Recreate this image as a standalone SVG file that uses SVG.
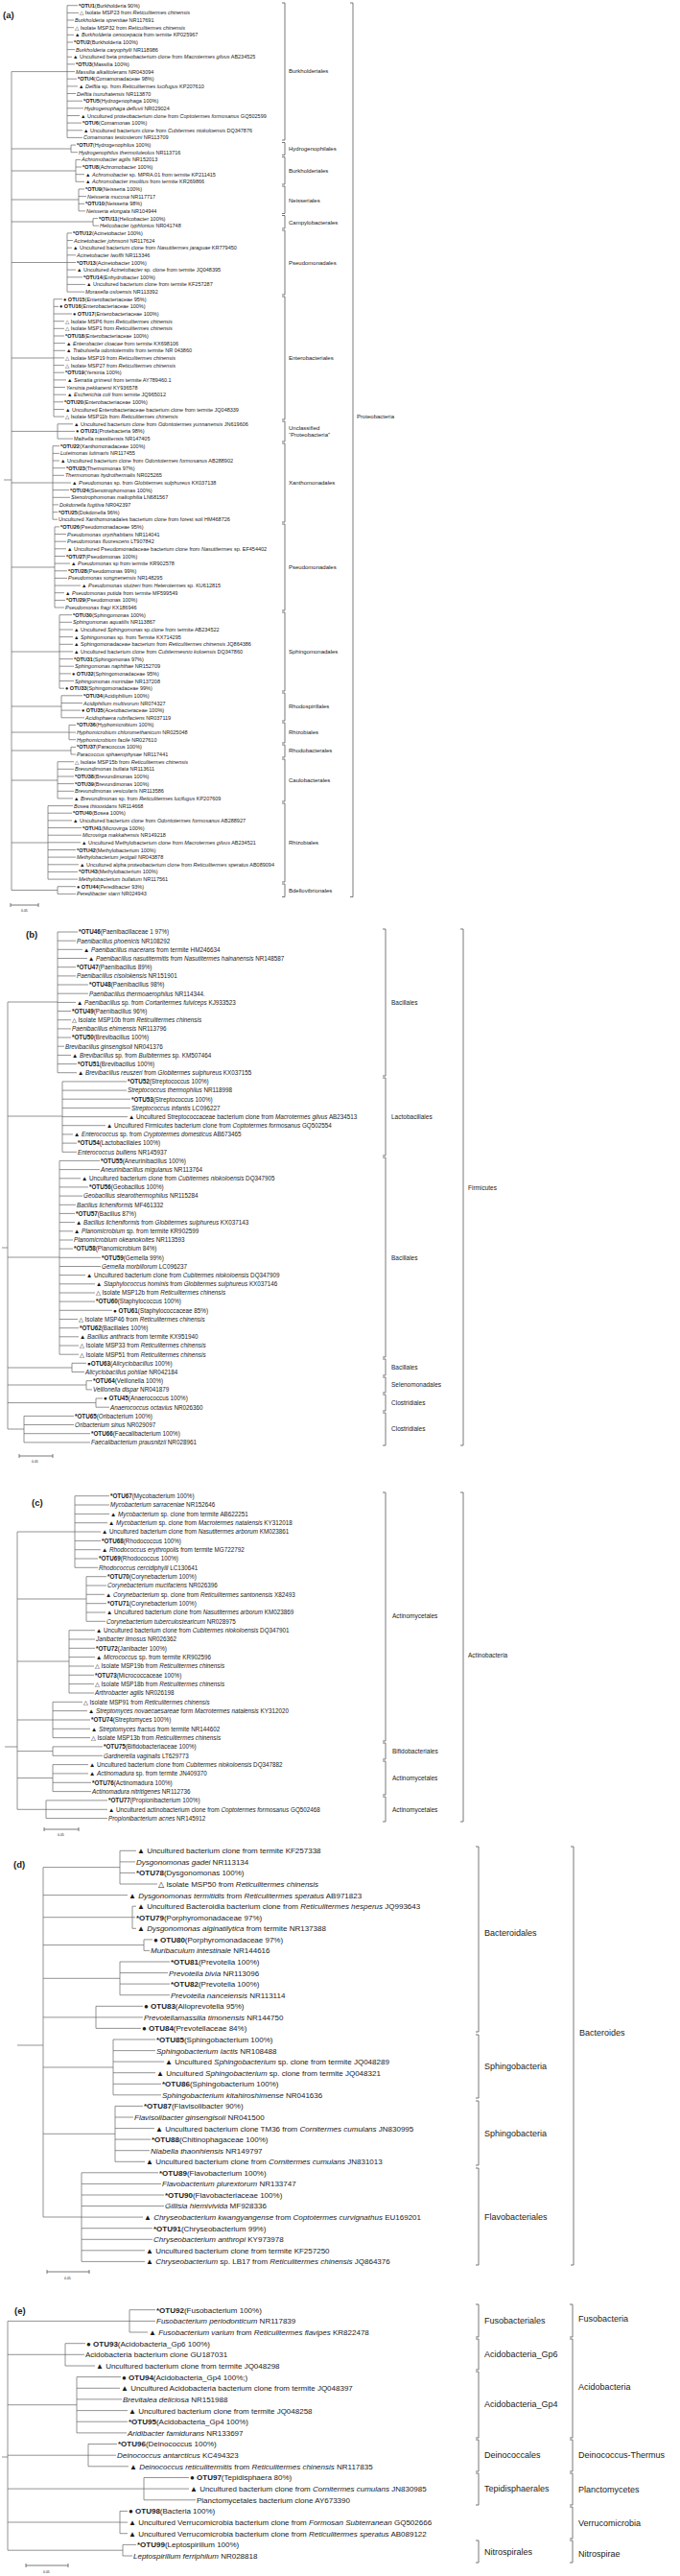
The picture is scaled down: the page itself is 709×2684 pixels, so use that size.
<svg xmlns="http://www.w3.org/2000/svg" width="709" height="2684" viewBox="0 0 709 2684">
<style>
text{font-family:"Liberation Sans",Arial,"DejaVu Sans",sans-serif;fill:#1a1a1a}
.a text{font-size:5.5px}.b text{font-size:6.3px}.d text{font-size:8px}
.i{font-style:italic}.k{font-weight:bold}
.l{fill:none;stroke:#666;stroke-width:0.7}
.br{fill:none;stroke:#555;stroke-width:0.8}
.oa text{font-size:6px}.ob text{font-size:6.5px}.od text{font-size:9px}
.pl{font-size:9.5px;font-weight:bold}
.sc{font-size:3.5px}
</style>
<rect width="709" height="2684" fill="#fff"/>
<g id="panel-labels">
<text class="pl" x="3" y="19">(a)</text>
<text class="pl" x="27" y="977">(b)</text>
<text class="pl" x="33" y="1569">(c)</text>
<text class="pl" x="14" y="1946">(d)</text>
<text class="pl" x="15" y="2411">(e)</text>
</g>
<g id="connectors">
<path class="l" d="M70 5.7V143.4M70 5.7H81M70 13.4H82M70 21H77M70 28.7H77M70 36.3H77M70 44H76M70 51.6H78M70 59.3H75M70 66.9H78M70 74.6H78M70 82.2H80M70 89.9H81M70 97.5H79M70 105.2H86M70 112.8H87M70 120.5H83M70 128.1H85M70 135.8H86M70 143.4H86
M74 151.1V158.7M74 151.1H79M74 158.7H81M79 166.4V189.3M79 166.4H84M79 174H85M79 181.7H88M79 189.3H88M82 197V219.9M82 197H88M82 204.6H90M82 212.3H88M82 219.9H89M97 227.6V235.2M97 227.6H102M97 235.2H103
M70 242.9V304.1M70 242.9H75M70 250.5H76M70 258.2H75M70 265.8H79M70 273.5H79M70 281.1H79M70 288.8H86M70 296.4H89M70 304.1H88
M56 311.7V434.1M56 311.7H65M56 319.4H61M56 327H75M56 334.7H67M56 342.3H67M56 350H67M56 357.6H68M56 365.3H68M56 372.9H67M56 380.6H67M56 388.2H67M56 395.9H69M56 403.5H68M56 411.2H69M56 418.8H66M56 426.5H67M56 434.1H67
M60 441.8V457.1M60 441.8H76M60 449.4H78M60 457.1H76
M55 464.7V541.2M55 464.7H62M55 472.4H62M55 480H62M55 487.7H68M55 495.3H67M55 503H74M55 510.6H72M55 518.3H73M55 525.9H61M55 533.6H60M55 541.2H60
M57 548.9V633M57 548.9H62M57 556.5H69M57 564.2H69M57 571.8H69M57 579.5H68M57 587.1H73M57 594.8H70M57 602.4H70M57 610.1H84M57 617.7H67M57 625.4H68M57 633H67
M62 640.7V717.2M62 640.7H75M62 648.3H75M62 656H76M62 663.6H76M62 671.3H76M62 678.9H76M62 686.6H76M62 694.2H77M62 701.9H74M62 709.5H77M62 717.2H67
M64 724.8V747.8M64 724.8H86M64 732.5H86M64 740.1H84M64 747.8H88M72 755.4V770.7M72 755.4H79M72 763.1H79M72 770.7H79M74 778.4V786M74 778.4H79M74 786H79
M60 793.7V831.9M60 793.7H77M60 801.3H77M60 809H77M60 816.6H77M60 824.3H77M60 831.9H76
M50 839.6V916.1M50 839.6H76M50 847.2H75M50 854.9H75M50 862.5H85M50 870.2H85M50 877.8H84M50 885.5H79M50 893.1H79M50 900.8H82M50 908.4H81M50 916.1H81
M60 923.7V931.4M60 923.7H79M60 931.4H79
M12 74.6V927.5M12 74.6H70M12 155H74M12 178H79M12 208H82M12 231H97M12 273.5H70M12 373H56M12 449.4H60M12 503H55M12 591H57M12 679H62M12 736H64M12 763H72M12 782H74M12 813H60M12 878H50M12 927.5H60M4 500H12"/>
<path class="l" d="M60 971V1117.7M60 971H81M60 980.2H79M60 989.3H86M60 998.5H91M60 1007.7H79M60 1016.9H79M60 1026H92M60 1035.2H92M60 1044.4H79M60 1053.5H74M60 1062.7H74M60 1071.9H74M60 1081H74M60 1090.2H67M60 1099.4H74M60 1108.6H80M60 1117.7H80
M65 1126.9V1200.3M65 1126.9H132M65 1136.1H132M65 1145.2H136M65 1154.4H136M65 1163.6H133M65 1172.7H110M65 1181.9H76M65 1191.1H80M65 1200.3H80
M62 1209.4V1411.2M62 1209.4H104M62 1218.6H104M62 1227.8H84M62 1236.9H92M62 1246.1H86M62 1255.3H79M62 1264.4H78M62 1273.6H78M62 1282.8H76M62 1292H76M62 1301.1H76M62 1310.3H105M62 1319.5H105M62 1328.6H89M62 1337.8H99M62 1347H99M62 1356.1H99M62 1365.3H117M62 1374.5H81M62 1383.7H82M62 1392.8H82M62 1402H82M62 1411.2H82
M75 1420.3V1429.5M75 1420.3H90M75 1429.5H88M90 1438.7V1447.9M90 1438.7H96M90 1447.9H96M100 1457V1466.2M100 1457H107M100 1466.2H114
M25 1475.4V1502.9M25 1475.4H77M25 1484.5H77M25 1493.7H94M25 1502.9H94
M8 1044V1489M8 1044H60M8 1163H65M8 1310H62M8 1425H75M8 1443H90M8 1461.6H100M8 1489H25M2 1300H8"/>
<path class="l" d="M78 1558.7V1633.3M78 1558.7H114M78 1568H114M78 1577.4H114M78 1586.7H112M78 1596H105M78 1605.4H105M78 1614.7H105M78 1624H102M78 1633.3H102
M90 1642.7V1689.3M90 1642.7H111M90 1652H111M90 1661.3H109M90 1670.7H111M90 1680H110M90 1689.3H110
M72 1698.7V1764M72 1698.7H99M72 1708H99M72 1717.3H99M72 1726.6H99M72 1736H98M72 1745.3H98M72 1754.6H98M72 1764H98
M55 1773.3V1810.6M55 1773.3H86M55 1782.6H91M55 1792H94M55 1801.3H94M55 1810.6H94
M55 1819.9V1829.3M55 1819.9H107M55 1829.3H107M55 1838.6V1866.6M55 1838.6H92M55 1847.9H92M55 1857.3H95M55 1866.6H95
M48 1875.9V1894.6M48 1875.9H112M48 1885.3H112M48 1894.6H112
M18 1596V1885.3M18 1596H78M18 1666H90M18 1731H72M18 1792H55M18 1824.6H55M18 1852.6H55M18 1885.3H48M5 1820H18"/>
<path class="l" d="M125 1928.3V1963M125 1928.3H142M125 1939.9H141M125 1951.4H141M125 1963H164M45 1974.6H133
M138 1986.2V2009.3M138 1986.2H142M138 1997.7H141M138 2009.3H142M150 2020.9V2032.4M150 2020.9H159M150 2032.4H156
M125 2044V2078.7M125 2044H177M125 2055.6H175M125 2067.1H177M125 2078.7H177
M100 2090.3V2113.4M100 2090.3H149M100 2101.9H149M100 2113.4H147
M118 2125V2182.8M118 2125H162M118 2136.6H162M118 2148.1H171M118 2159.7H162M118 2171.3H168M118 2182.8H168
M120 2194.4V2252.3M120 2194.4H149M120 2206H139M120 2217.6H161M120 2229.1H157M120 2240.7H156M120 2252.3H151
M85 2263.8V2356.4M85 2263.8H165M85 2275.4H168M85 2287H171M85 2298.5H171M85 2310.1H149M85 2321.7H159M85 2333.3H159M85 2344.8H151M85 2356.4H151
M45 1945.6V2310M45 1945.6H125M45 1997.7H138M45 2026.6H150M45 2061.3H125M45 2101.9H100M45 2154H118M45 2223.3H120M45 2310H85M18 2131H45"/>
<path class="l" d="M135 2406.7V2430M135 2406.7H162M135 2418.4H162M135 2430H154
M68 2441.7V2465M68 2441.7H89M68 2453.3H88M68 2465H99
M80 2476.6V2534.9M80 2476.6H126M80 2488.3H125M80 2499.9H127M80 2511.6H133M80 2523.2H133M80 2534.9H132
M92 2546.5V2569.8M92 2546.5H122M92 2558.2H121M92 2569.8H134
M150 2581.5V2604.8M150 2581.5H197M150 2593.1H197M150 2604.8H204
M125 2616.4V2639.7M125 2616.4H133M125 2628.1H133M125 2639.7H133
M128 2651.4V2663M128 2651.4H142M128 2663H138
M8 2418.4V2657.2M8 2418.4H135M8 2453.3H68M8 2505.7H80M8 2558.2H92M8 2593.1H150M8 2628H125M8 2657.2H128M2 2560H8"/>
<path class="br" d="M11 943H40M11 941V945M40 941V945M20 1517H55M20 1515V1519M55 1515V1519M46 1906H82M46 1904V1908M82 1904V1908M49 2367H93M49 2365V2369M93 2365V2369M27 2673H71M27 2671V2675M71 2671V2675"/>
</g>
<g id="scales">
<text class="sc" x="22" y="950">0.05</text><text class="sc" x="33" y="1524">0.05</text><text class="sc" x="60" y="1913">0.05</text><text class="sc" x="67" y="2375">0.05</text><text class="sc" x="45" y="2681">0.05</text>
</g>
<g id="brackets">
<path class="br" d="M294 3H297V146H294M294 148.5H297V161.5H294M294 163.5H297V192H294M294 194H297V222.5H294M294 224.5H297V238H294M294 240H297V307H294M294 309H297V437H294M294 439H297V460H294M294 462H297V544H294M294 546H297V636H294M294 638H297V720H294M294 722H297V751H294M294 753H297V774H294M294 776H297V789H294M294 791H297V835H294M294 837H297V919H294M294 921H297V934.5H294M365 3H368V934.5H365
M399 968H402V1121H399M399 1123H402V1204H399M399 1206H402V1414H399M399 1416H402V1433H399M399 1435H402V1451H399M399 1453H402V1470H399M399 1472H402V1506H399M480 968H483V1506H480
M399 1555H402V1814H399M399 1816H402V1833H399M399 1835H402V1870H399M399 1872H402V1898H399M480 1555H483V1898H480
M496 1924H499V2117H496M496 2120H499V2186H496M496 2189H499V2256H496M496 2259H499V2360H496M595 1924H598V2360H595
M496 2401H499V2435H496M496 2437H499V2469H496M496 2471H499V2540H496M496 2542H499V2575H496M496 2577H499V2610H496M496 2647H499V2670H496
M594 2401H597V2435H594M594 2437H597V2540H594M594 2542H597V2575H594M594 2577H597V2610H594M594 2612H597V2645H594M594 2647H597V2670H594"/>
</g>
<g id="group-labels">
<g class="oa">
<text x="301" y="76">Burkholderiales</text><text x="301" y="157">Hydrogenophilales</text><text x="301" y="180">Burkholderiales</text><text x="301" y="211">Neisseriales</text><text x="301" y="234">Campylobacterales</text><text x="301" y="276">Pseudomonadales</text><text x="301" y="375">Enterobacteriales</text><text x="301" y="447.5">Unclassified</text><text x="301" y="455">“Proteobacteria”</text><text x="301" y="505">Xanthomonadales</text><text x="301" y="593">Pseudomonadales</text><text x="301" y="681">Sphingomonadales</text><text x="301" y="738">Rhodospirillales</text><text x="301" y="765">Rhizobiales</text><text x="301" y="784">Rhodobacterales</text><text x="301" y="815">Caulobacterales</text><text x="301" y="880">Rhizobiales</text><text x="301" y="930">Bdellovibrionales</text><text x="372" y="436">Proteobacteria</text>
</g>
<g class="ob">
<text x="408" y="1047">Bacillales</text><text x="408" y="1166">Lactobacillales</text><text x="408" y="1313">Bacillales</text><text x="408" y="1427">Bacillales</text><text x="408" y="1445">Selenomonadales</text><text x="408" y="1464">Clostridiales</text><text x="408" y="1491">Clostridiales</text><text x="488" y="1240">Firmicutes</text>
<text x="409" y="1686">Actinomycetales</text><text x="409" y="1827">Bifidobacteriales</text><text x="409" y="1855">Actinomycetales</text><text x="409" y="1888">Actinomycetales</text><text x="488" y="1727">Actinobacteria</text>
</g>
<g class="od">
<text x="505" y="2017">Bacteroidales</text><text x="505" y="2156">Sphingobacteria</text><text x="505" y="2226">Sphingobacteria</text><text x="505" y="2313">Flavobacteriales</text><text x="604" y="2121">Bacteroides</text>
<text x="505" y="2421">Fusobacteriales</text><text x="505" y="2456">Acidobacteria_Gp6</text><text x="505" y="2508">Acidobacteria_Gp4</text><text x="505" y="2561">Deinococcales</text><text x="505" y="2596">Tepidisphaerales</text><text x="505" y="2662">Nitrospirales</text>
<text x="603" y="2419">Fusobacteria</text><text x="603" y="2490">Acidobacteria</text><text x="603" y="2561">Deinococcus-Thermus</text><text x="603" y="2597">Planctomycetes</text><text x="603" y="2632">Verrucomicrobia</text><text x="603" y="2664">Nitrospirae</text>
</g>
</g>
<g id="leaves-a" class="a">
<text x="82" y="7.7"><tspan class="k">*OTU1</tspan>(Burkholderia 90%)</text>
<text x="83" y="15.4">△ Isolate MSP23 from <tspan class="i">Reticulitermes chinensis</tspan></text>
<text x="78" y="23"><tspan class="i">Burkholderia sprentiae</tspan> NR117691</text>
<text x="78" y="30.7">△ Isolate MSP32 from <tspan class="i">Reticulitermes chinensis</tspan></text>
<text x="78" y="38.3">▲ <tspan class="i">Burkholderia cenocepacia</tspan> from termite KP025967</text>
<text x="77" y="46"><tspan class="k">*OTU2</tspan>(Burkholderia 100%)</text>
<text x="79" y="53.6"><tspan class="i">Burkholderia caryophylli</tspan> NR118986</text>
<text x="76" y="61.3">▲ Uncultured beta proteobacterium clone from <tspan class="i">Macrotermes gilvus</tspan> AB234525</text>
<text x="79" y="68.9"><tspan class="k">*OTU3</tspan>(Massilia 100%)</text>
<text x="79" y="76.6"><tspan class="i">Massilia alkalitolerans</tspan> NR043094</text>
<text x="81" y="84.2"><tspan class="k">*OTU4</tspan>(Comamonadaceae 98%)</text>
<text x="82" y="91.9">▲ <tspan class="i">Delftia</tspan> sp. from <tspan class="i">Reticulitermes lucifugus</tspan> KP207610</text>
<text x="80" y="99.5"><tspan class="i">Delftia tsuruhatensis</tspan> NR113870</text>
<text x="87" y="107.2"><tspan class="k">*OTU5</tspan>(Hydrogenophaga 100%)</text>
<text x="88" y="114.8"><tspan class="i">Hydrogenophaga defluvii</tspan> NR029024</text>
<text x="84" y="122.5">▲ Uncultured proteobacterium clone from <tspan class="i">Coptotermes formosanus</tspan> GQ502599</text>
<text x="86" y="130.1"><tspan class="k">*OTU6</tspan>(Comamonas 100%)</text>
<text x="87" y="137.8">▲ Uncultured bacterium clone from <tspan class="i">Cubitermes niokoloensis</tspan> DQ347876</text>
<text x="87" y="145.4"><tspan class="i">Comamonas testosteroni</tspan> NR113709</text>
<text x="80" y="153.1"><tspan class="k">*OTU7</tspan>(Hydrogenophilus 100%)</text>
<text x="82" y="160.7"><tspan class="i">Hydrogenophilus thermoluteolus</tspan> NR113716</text>
<text x="85" y="168.4"><tspan class="i">Achromobacter agilis</tspan> NR152013</text>
<text x="86" y="176"><tspan class="k">*OTU8</tspan>(Achromobacter 100%)</text>
<text x="89" y="183.7">▲ <tspan class="i">Achromobacter</tspan> sp. MPRA.01 from termite KP211415</text>
<text x="89" y="191.3">▲ <tspan class="i">Achromobacter insolitus</tspan> from termite KR269866</text>
<text x="89" y="199"><tspan class="k">*OTU9</tspan>(Neisseria 100%)</text>
<text x="91" y="206.6"><tspan class="i">Neisseria mucosa</tspan> NR117717</text>
<text x="89" y="214.3"><tspan class="k">*OTU10</tspan>(Neisseria 98%)</text>
<text x="90" y="221.9"><tspan class="i">Neisseria elongata</tspan> NR104944</text>
<text x="103" y="229.6"><tspan class="k">*OTU11</tspan>(Helicobacter 100%)</text>
<text x="104" y="237.2"><tspan class="i">Helicobacter typhlonius</tspan> NR041748</text>
<text x="76" y="244.9"><tspan class="k">*OTU12</tspan>(Acinetobacter 100%)</text>
<text x="77" y="252.5"><tspan class="i">Acinetobacter johnsonii</tspan> NR117624</text>
<text x="76" y="260.2">▲ Uncultured bacterium clone from <tspan class="i">Nasutitermes jaraguae</tspan> KR779450</text>
<text x="80" y="267.8"><tspan class="i">Acinetobacter lwoffii</tspan> NR113346</text>
<text x="80" y="275.5"><tspan class="k">*OTU13</tspan>(Acinetobacter 100%)</text>
<text x="80" y="283.1">▲ Uncultured <tspan class="i">Acinetobacter</tspan> sp. clone from termite JQ048395</text>
<text x="87" y="290.8"><tspan class="k">*OTU14</tspan>(Enhydrobacter 100%)</text>
<text x="90" y="298.4">▲ Uncultured bacterium clone from termite KF257287</text>
<text x="89" y="306.1"><tspan class="i">Moraxella osloensis</tspan> NR113392</text>
<text x="66" y="313.7">● <tspan class="k">OTU15</tspan>(Enterobacteriaceae 95%)</text>
<text x="62" y="321.4">● <tspan class="k">OTU16</tspan>(Enterobacteriaceae 100%)</text>
<text x="76" y="329">● <tspan class="k">OTU17</tspan>(Enterobacteriaceae 100%)</text>
<text x="68" y="336.7">△ Isolate MSP6 from <tspan class="i">Reticulitermes chinensis</tspan></text>
<text x="68" y="344.3">△ Isolate MSP1 from <tspan class="i">Reticulitermes chinensis</tspan></text>
<text x="68" y="352"><tspan class="k">*OTU18</tspan>(Enterobacteriaceae 100%)</text>
<text x="69" y="359.6">▲ <tspan class="i">Enterobacter cloacae</tspan> from termite KX698106</text>
<text x="69" y="367.3">▲ <tspan class="i">Trabulsiella odontotermitis</tspan> from termite NR 043860</text>
<text x="68" y="374.9">△ Isolate MSP19 from <tspan class="i">Reticulitermes chinensis</tspan></text>
<text x="68" y="382.6">△ Isolate MSP27 from <tspan class="i">Reticulitermes chinensis</tspan></text>
<text x="68" y="390.2"><tspan class="k">*OTU19</tspan>(Yersinia 100%)</text>
<text x="70" y="397.9">▲ <tspan class="i">Serratia grimesii</tspan> from termite AY789460.1</text>
<text x="69" y="405.5"><tspan class="i">Yersinia pekkanenii</tspan> KY936578</text>
<text x="70" y="413.2">▲ <tspan class="i">Escherichia coli</tspan> from termite JQ965012</text>
<text x="67" y="420.8"><tspan class="k">*OTU20</tspan>(Enterobacteriaceae 100%)</text>
<text x="68" y="428.5">▲ Uncultured Enterobacteriaceae bacterium clone from termite JQ048339</text>
<text x="68" y="436.1">△ Isolate MSP11b from <tspan class="i">Reticulitermes chinensis</tspan></text>
<text x="77" y="443.8">▲ Uncultured bacterium clone from <tspan class="i">Odontotermes yunnanensis</tspan> JN619606</text>
<text x="79" y="451.4">● <tspan class="k">OTU21</tspan>(Protebacteria 98%)</text>
<text x="77" y="459.1">Maihella massiliensis NR147405</text>
<text x="63" y="466.7"><tspan class="k">*OTU22</tspan>(Xanthomonadaceae 100%)</text>
<text x="63" y="474.4"><tspan class="i">Luteimonas lutimaris</tspan> NR117455</text>
<text x="63" y="482">▲ Uncultured bacterium clone from <tspan class="i">Odontotermes formosanus</tspan> AB288902</text>
<text x="69" y="489.7"><tspan class="k">*OTU23</tspan>(Thermomonas 97%)</text>
<text x="68" y="497.3"><tspan class="i">Thermomonas hydrothermalis</tspan> NR025265</text>
<text x="75" y="505">▲ <tspan class="i">Pseudomonas</tspan> sp. from <tspan class="i">Globitermes sulphureus</tspan> KX037138</text>
<text x="73" y="512.6"><tspan class="k">*OTU24</tspan>(Stenotrophomonas 100%)</text>
<text x="74" y="520.3"><tspan class="i">Stenotrophomonas maltophilia</tspan> LN681567</text>
<text x="62" y="527.9"><tspan class="i">Dokdonella fugitiva</tspan> NR042397</text>
<text x="61" y="535.6"><tspan class="k">*OTU25</tspan>(Dokdonella 96%)</text>
<text x="61" y="543.2">Uncultured Xanthomonadales bacterium clone from forest soil HM468726</text>
<text x="63" y="550.9"><tspan class="k">*OTU26</tspan>(Pseudomonadaceae 95%)</text>
<text x="70" y="558.5"><tspan class="i">Pseudomonas oryzihabitans</tspan> NR114041</text>
<text x="70" y="566.2"><tspan class="i">Pseudomonas fluorescens</tspan> LT907842</text>
<text x="70" y="573.8">▲ Uncultured Pseudomonadaceae bacterium clone from <tspan class="i">Nasutitermes</tspan> sp. EF454402</text>
<text x="69" y="581.5"><tspan class="k">*OTU27</tspan>(Pseudomonas 100%)</text>
<text x="74" y="589.1">▲ <tspan class="i">Pseudomonas</tspan> sp from termite KR902578</text>
<text x="71" y="596.8"><tspan class="k">*OTU28</tspan>(Pseudomonas 99%)</text>
<text x="71" y="604.4"><tspan class="i">Pseudomonas songnenensis</tspan> NR148295</text>
<text x="85" y="612.1">▲ <tspan class="i">Pseudomonas stutzeri</tspan> from <tspan class="i">Heterotermes</tspan> sp. KU612815</text>
<text x="68" y="619.7">▲ <tspan class="i">Pseudomonas putida</tspan> from termite  MF599549</text>
<text x="69" y="627.4"><tspan class="k">*OTU29</tspan>(Pseudomonas 100%)</text>
<text x="68" y="635"><tspan class="i">Pseudomonas fragi</tspan> KX186946</text>
<text x="76" y="642.7"><tspan class="k">*OTU30</tspan>(Sphingomonas 100%)</text>
<text x="76" y="650.3"><tspan class="i">Sphingomonas aquatilis</tspan> NR113867</text>
<text x="77" y="658">▲ Uncultured <tspan class="i">Sphingomonas</tspan> sp.clone from termite AB234522</text>
<text x="77" y="665.6">▲ <tspan class="i">Sphingomonas</tspan> sp. from Termite  KX714295</text>
<text x="77" y="673.3">▲ Sphingomonadaceae bacterium from <tspan class="i">Reticulitermes chinensis</tspan> JQ864386</text>
<text x="77" y="680.9">▲ Uncultured bacterium clone from <tspan class="i">Cubitermesnio koloensis</tspan> DQ347860</text>
<text x="77" y="688.6"><tspan class="k">*OTU31</tspan>(Sphingomonas 97%)</text>
<text x="78" y="696.2"><tspan class="i">Sphingomonas naphthae</tspan> NR152709</text>
<text x="75" y="703.9">● <tspan class="k">OTU32</tspan>(Sphingomonadaceae 95%)</text>
<text x="78" y="711.5"><tspan class="i">Sphingomonas morindae</tspan> NR137208</text>
<text x="68" y="719.2">● <tspan class="k">OTU33</tspan>(Sphingomonadaceae 99%)</text>
<text x="87" y="726.8"><tspan class="k">*OTU34</tspan>(Acidiphilium 100%)</text>
<text x="87" y="734.5"><tspan class="i">Acidiphilium multivorum</tspan> NR074327</text>
<text x="85" y="742.1">● <tspan class="k">OTU35</tspan>(Acetobacteraceae 100%)</text>
<text x="89" y="749.8"><tspan class="i">Acidisphaera rubrifaciens</tspan> NR037119</text>
<text x="80" y="757.4"><tspan class="k">*OTU36</tspan>(Hyphomicrobium 100%)</text>
<text x="80" y="765.1"><tspan class="i">Hyphomicrobium chloromethanicum</tspan> NR025048</text>
<text x="80" y="772.7"><tspan class="i">Hyphomicrobium facile</tspan> NR027610</text>
<text x="80" y="780.4"><tspan class="k">*OTU37</tspan>(Paracoccus 100%)</text>
<text x="80" y="788"><tspan class="i">Paracoccus sphaerophysae</tspan> NR117441</text>
<text x="78" y="795.7">△ Isolate MSP15b from <tspan class="i">Reticulitermes chinensis</tspan></text>
<text x="78" y="803.3"><tspan class="i">Brevundimonas bullata</tspan> NR113611</text>
<text x="78" y="811"><tspan class="k">*OTU38</tspan>(Brevundimonas 100%)</text>
<text x="78" y="818.6"><tspan class="k">*OTU39</tspan>(Brevundimonas 100%)</text>
<text x="78" y="826.3"><tspan class="i">Brevundimonas vesicularis</tspan> NR113586</text>
<text x="77" y="833.9">▲ <tspan class="i">Brevundimonas</tspan> sp. from <tspan class="i">Reticulitermes lucifugus</tspan> KP207609</text>
<text x="77" y="841.6"><tspan class="i">Bosea thiooxidans</tspan> NR114668</text>
<text x="76" y="849.2"><tspan class="k">*OTU40</tspan>(Bosea 100%)</text>
<text x="76" y="856.9">▲ Uncultured bacterium clone from <tspan class="i">Odontotermes formosanus</tspan> AB288927</text>
<text x="86" y="864.5"><tspan class="k">*OTU41</tspan>(Microvirga 100%)</text>
<text x="86" y="872.2"><tspan class="i">Microvirga makkahensis</tspan> NR149218</text>
<text x="85" y="879.8">▲ Uncultured Methylobacterium clone from <tspan class="i">Macrotermes gilvus</tspan> AB234521</text>
<text x="80" y="887.5"><tspan class="k">*OTU42</tspan>(Methylobacterium 100%)</text>
<text x="80" y="895.1"><tspan class="i">Methylobacterium jeotgali</tspan> NR043878</text>
<text x="83" y="902.8">▲ Uncultured alpha proteobacterium clone from <tspan class="i">Reticulitermes speratus</tspan> AB089094</text>
<text x="82" y="910.4"><tspan class="k">*OTU43</tspan>(Methylobacterium 100%)</text>
<text x="82" y="918.1"><tspan class="i">Methylobacterium bullatum</tspan> NR117561</text>
<text x="80" y="925.7">● <tspan class="k">OTU44</tspan>(Peredibacter 93%)</text>
<text x="80" y="933.4"><tspan class="i">Peredibacter starri</tspan> NR024943</text>
</g>
<g id="leaves-b" class="b">
<text x="82" y="973.3"><tspan class="k">*OTU46</tspan>(Paenibacillaceae 1 97%)</text>
<text x="80" y="982.5"><tspan class="i">Paenibacillus phoenicis</tspan> NR108292</text>
<text x="87" y="991.6">▲ <tspan class="i">Paenibacillus macerans</tspan> from termite HM246634</text>
<text x="92" y="1000.8">▲ <tspan class="i">Paenibacillus nasutitermitis</tspan> from <tspan class="i">Nasutitermes hainanensis</tspan> NR148587</text>
<text x="80" y="1010"><tspan class="k">*OTU47</tspan>(Paenibacillus 89%)</text>
<text x="80" y="1019.2"><tspan class="i">Paenibacillus cisolokensis</tspan> NR151901</text>
<text x="93" y="1028.3"><tspan class="k">*OTU48</tspan>(Paenibacillus 98%)</text>
<text x="93" y="1037.5"><tspan class="i">Paenibacillus thermoaerophilus</tspan> NR114344.</text>
<text x="80" y="1046.7">▲ <tspan class="i">Paenibacillus</tspan> sp. from <tspan class="i">Cortaritermes fulviceps</tspan> KJ933523</text>
<text x="75" y="1055.8"><tspan class="k">*OTU49</tspan>(Paenibacillus 96%)</text>
<text x="75" y="1065">△ Isolate MSP10b from <tspan class="i">Reticulitermes chinensis</tspan></text>
<text x="75" y="1074.2"><tspan class="i">Paenibacillus ehimensis</tspan> NR113796</text>
<text x="75" y="1083.3"><tspan class="k">*OTU50</tspan>(Brevibacillus 100%)</text>
<text x="68" y="1092.5"><tspan class="i">Brevibacillus ginsengisoli</tspan> NR041376</text>
<text x="75" y="1101.7">▲ <tspan class="i">Brevibacillus</tspan> sp. from <tspan class="i">Bulbitermes</tspan> sp. KM507464</text>
<text x="81" y="1110.9"><tspan class="k">*OTU51</tspan>(Brevibacillus 100%)</text>
<text x="81" y="1120">▲ <tspan class="i">Brevibacillus reuszeri</tspan> from <tspan class="i">Globitermes sulphureus</tspan> KX037155</text>
<text x="133" y="1129.2"><tspan class="k">*OTU52</tspan>(Streptococcus 100%)</text>
<text x="133" y="1138.4"><tspan class="i">Streptococcus thermophilus</tspan> NR118998</text>
<text x="137" y="1147.5"><tspan class="k">*OTU53</tspan>(Streptococcus 100%)</text>
<text x="137" y="1156.7"><tspan class="i">Streptococcus infantis</tspan> LC096227</text>
<text x="134" y="1165.9">▲ Uncultured Streptococcaceae bacterium clone from <tspan class="i">Macrotermes gilvus</tspan> AB234513</text>
<text x="111" y="1175">▲ Uncultured Firmicutes bacterium clone from <tspan class="i">Coptotermes formosanus</tspan> GQ502554</text>
<text x="77" y="1184.2">▲ <tspan class="i">Enterococcus</tspan> sp. from <tspan class="i">Cryptotermes domesticus</tspan> AB673465</text>
<text x="81" y="1193.4"><tspan class="k">*OTU54</tspan>(Lactobacillales 100%)</text>
<text x="81" y="1202.6"><tspan class="i">Enterococcus bulliens</tspan> NR145937</text>
<text x="105" y="1211.7"><tspan class="k">*OTU55</tspan>(Aneurinibacillus 100%)</text>
<text x="105" y="1220.9"><tspan class="i">Aneurinibacillus migulanus</tspan> NR113764</text>
<text x="85" y="1230.1">▲ Uncultured bacterium clone from <tspan class="i">Cubitermes niokoloensis</tspan> DQ347905</text>
<text x="93" y="1239.2"><tspan class="k">*OTU56</tspan>(Geobacillus 100%)</text>
<text x="87" y="1248.4"><tspan class="i">Geobacillus stearothermophilus</tspan> NR115284</text>
<text x="80" y="1257.6"><tspan class="i">Bacillus licheniformis</tspan> MF461332</text>
<text x="79" y="1266.7"><tspan class="k">*OTU57</tspan>(Bacillus 87%)</text>
<text x="79" y="1275.9">▲ <tspan class="i">Bacillus licheniformis</tspan> from <tspan class="i">Globitermes sulphureus</tspan> KX037143</text>
<text x="77" y="1285.1">▲ <tspan class="i">Planomicrobium</tspan> sp. from termite KR902599</text>
<text x="77" y="1294.3"><tspan class="i">Planomicrobium okeanokoites</tspan> NR113593</text>
<text x="77" y="1303.4"><tspan class="k">*OTU58</tspan>(Planomicrobium 84%)</text>
<text x="106" y="1312.6"><tspan class="k">*OTU59</tspan>(Gemella 99%)</text>
<text x="106" y="1321.8"><tspan class="i">Gemella morbillorum</tspan> LC096237</text>
<text x="90" y="1330.9">▲ Uncultured bacterium clone from <tspan class="i">Cubitermes niokoloensis</tspan> DQ347909</text>
<text x="100" y="1340.1">▲ <tspan class="i">Staphylococcus hominis</tspan> from <tspan class="i">Globitermes sulphureus</tspan> KX037146</text>
<text x="100" y="1349.3">△ Isolate MSP12b from <tspan class="i">Reticulitermes chinensis</tspan></text>
<text x="100" y="1358.4"><tspan class="k">*OTU60</tspan>(Staphylococcus 100%)</text>
<text x="118" y="1367.6">● <tspan class="k">OTU61</tspan>(Staphylococcaceae 85%)</text>
<text x="82" y="1376.8">△ Isolate MSP46 from <tspan class="i">Reticulitermes chinensis</tspan></text>
<text x="83" y="1386"><tspan class="k">*OTU62</tspan>(Bacillales 100%)</text>
<text x="83" y="1395.1">▲ <tspan class="i">Bacillus anthracis</tspan> from termite KX951940</text>
<text x="83" y="1404.3">△ Isolate MSP33 from <tspan class="i">Reticulitermes chinensis</tspan></text>
<text x="83" y="1413.5">△ Isolate MSP51 from <tspan class="i">Reticulitermes chinensis</tspan></text>
<text x="91" y="1422.6">●<tspan class="k">OTU63</tspan>(<tspan class="i">Alicyclobacillus</tspan> 100%)</text>
<text x="89" y="1431.8"><tspan class="i">Alicyclobacillus pohliae</tspan> NR042184</text>
<text x="97" y="1441"><tspan class="k">*OTU64</tspan>(Veillonella 100%)</text>
<text x="97" y="1450.2"><tspan class="i">Veillonella dispar</tspan> NR041879</text>
<text x="108" y="1459.3">● <tspan class="k">OTU45</tspan>(Anaerococcus 100%)</text>
<text x="115" y="1468.5"><tspan class="i">Anaerococcus octavius</tspan> NR026360</text>
<text x="78" y="1477.7"><tspan class="k">*OTU65</tspan>(Oribacterium 100%)</text>
<text x="78" y="1486.8"><tspan class="i">Oribacterium sinus</tspan> NR029097</text>
<text x="95" y="1496"><tspan class="k">*OTU66</tspan>(Faecalibacterium 100%)</text>
<text x="95" y="1505.2"><tspan class="i">Faecalibacterium prausnitzii</tspan> NR028961</text>
</g>
<g id="leaves-c" class="b">
<text x="115" y="1561"><tspan class="k">*OTU67</tspan>(Mycobacterium 100%)</text>
<text x="115" y="1570.3"><tspan class="i">Mycobacterium sarraceniae</tspan> NR152646</text>
<text x="115" y="1579.7">▲ <tspan class="i">Mycobacterium</tspan> sp. clone from termite AB622251</text>
<text x="113" y="1589">▲ <tspan class="i">Mycobacterium</tspan> sp. clone from <tspan class="i">Macrotermes natalensis</tspan> KY312018</text>
<text x="106" y="1598.3">▲ Uncultured bacterium clone from <tspan class="i">Nasutitermes arborum</tspan> KM023861</text>
<text x="106" y="1607.7"><tspan class="k">*OTU68</tspan>(Rhodococcus 100%)</text>
<text x="106" y="1617">▲ <tspan class="i">Rhodococcus erythropolis</tspan> from termite MG722792</text>
<text x="103" y="1626.3"><tspan class="k">*OTU69</tspan>(Rhodococcus 100%)</text>
<text x="103" y="1635.6"><tspan class="i">Rhodococcus cercidiphylli</tspan> LC130641</text>
<text x="112" y="1645"><tspan class="k">*OTU70</tspan>(Corynebacterium 100%)</text>
<text x="112" y="1654.3"><tspan class="i">Corynebacterium mucifaciens</tspan> NR026396</text>
<text x="110" y="1663.6">▲ <tspan class="i">Corynebacterium</tspan> sp. clone from <tspan class="i">Reticulitermes santonensis</tspan> X82493</text>
<text x="112" y="1673"><tspan class="k">*OTU71</tspan>(Corynebacterium 100%)</text>
<text x="111" y="1682.3">▲ Uncultured bacterium clone from <tspan class="i">Nasutitermes arborum</tspan> KM023869</text>
<text x="111" y="1691.6"><tspan class="i">Corynebacterium tuberculostearicum</tspan> NR028975</text>
<text x="100" y="1701">▲ Uncultured bacterium clone from <tspan class="i">Cubitermes niokoloensis</tspan> DQ347901</text>
<text x="100" y="1710.3"><tspan class="i">Janibacter limosus</tspan> NR026362</text>
<text x="100" y="1719.6"><tspan class="k">*OTU72</tspan>(Janibacter 100%)</text>
<text x="100" y="1728.9">▲ <tspan class="i">Micrococcus</tspan> sp. from termite KR902596</text>
<text x="99" y="1738.3">△ Isolate MSP19b from <tspan class="i">Reticulitermes chinensis</tspan></text>
<text x="99" y="1747.6"><tspan class="k">*OTU73</tspan>(Micrococcaceae 100%)</text>
<text x="99" y="1756.9">△ Isolate MSP18b from <tspan class="i">Reticulitermes chinensis</tspan></text>
<text x="99" y="1766.3"><tspan class="i">Arthrobacter agilis</tspan>  NR026198</text>
<text x="87" y="1775.6">△ Isolate MSP91 from <tspan class="i">Reticulitermes chinensis</tspan></text>
<text x="92" y="1784.9">▲ <tspan class="i">Streptomyces novaecaesareae</tspan> form <tspan class="i">Macrotermes natalensis</tspan> KY312020</text>
<text x="95" y="1794.3"><tspan class="k">*OTU74</tspan>(Streptomyces 100%)</text>
<text x="95" y="1803.6">▲ <tspan class="i">Streptomyces fractus</tspan> from termite NR144602</text>
<text x="95" y="1812.9">△ Isolate MSP13b from <tspan class="i">Reticulitermes chinensis</tspan></text>
<text x="108" y="1822.2"><tspan class="k">*OTU75</tspan>(Bifidobacteriaceae 100%)</text>
<text x="108" y="1831.6"><tspan class="i">Gardnerella vaginalis</tspan> LT629773</text>
<text x="93" y="1840.9">▲ Uncultured bacterium clone from <tspan class="i">Cubitermes niokoloensis</tspan> DQ347882</text>
<text x="93" y="1850.2">▲ <tspan class="i">Actinomadura</tspan> sp. from termite JN409370</text>
<text x="96" y="1859.6"><tspan class="k">*OTU76</tspan>(Actinomadura 100%)</text>
<text x="96" y="1868.9"><tspan class="i">Actinomadura nitritigenes</tspan> NR112736</text>
<text x="113" y="1878.2"><tspan class="k">*OTU77</tspan>(Propionibacterium 100%)</text>
<text x="113" y="1887.6">▲ Uncultured actinobacterium clone from <tspan class="i">Coptotermes formosanus</tspan> GQ502468</text>
<text x="113" y="1896.9"><tspan class="i">Propionibacterium acnes</tspan> NR145912</text>
</g>
<g id="leaves-d" class="d">
<text x="143" y="1931.2">▲ Uncultured bacterium clone from termite KF257338</text>
<text x="142" y="1942.8"><tspan class="i">Dysgonomonas gadei</tspan> NR113134</text>
<text x="142" y="1954.3"><tspan class="k">*OTU78</tspan>(Dysgonomonas 100%)</text>
<text x="165" y="1965.9">△ Isolate MSP50 from <tspan class="i">Reticulitermes chinensis</tspan></text>
<text x="134" y="1977.5">▲ <tspan class="i">Dysgonomonas termitidis</tspan> from <tspan class="i">Reticulitermes speratus</tspan> AB971823</text>
<text x="143" y="1989.1">▲ Uncultured Bacteroidia bacterium clone from <tspan class="i">Reticulitermes hesperus</tspan> JQ993643</text>
<text x="142" y="2000.6"><tspan class="k">*OTU79</tspan>(Porphyromonadaceae 97%)</text>
<text x="143" y="2012.2">▲ <tspan class="i">Dysgonomonas alginatilytica</tspan> from termite  NR137388</text>
<text x="160" y="2023.8">● <tspan class="k">OTU80</tspan>(Porphyromonadaceae 97%)</text>
<text x="157" y="2035.3"><tspan class="i">Muribaculum intestinale</tspan> NR144616</text>
<text x="178" y="2046.9"><tspan class="k">*OTU81</tspan>(Prevotella 100%)</text>
<text x="176" y="2058.5"><tspan class="i">Prevotella bivia</tspan> NR113096</text>
<text x="178" y="2070"><tspan class="k">*OTU82</tspan>(Prevotella 100%)</text>
<text x="178" y="2081.6"><tspan class="i">Prevotella nanceiensis</tspan> NR113114</text>
<text x="150" y="2093.2">● <tspan class="k">OTU83</tspan>(Alloprevotella 95%)</text>
<text x="150" y="2104.8"><tspan class="i">Prevotellamassilia timonensis</tspan> NR144750</text>
<text x="148" y="2116.3">● <tspan class="k">OTU84</tspan>(Prevotellaceae 84%)</text>
<text x="163" y="2127.9"><tspan class="k">*OTU85</tspan>(Sphingobacterium 100%)</text>
<text x="163" y="2139.5"><tspan class="i">Sphingobacterium lactis</tspan> NR108488</text>
<text x="172" y="2151">▲ Uncultured <tspan class="i">Sphingobacterium</tspan> sp. clone from termite JQ048289</text>
<text x="163" y="2162.6">▲ Uncultured <tspan class="i">Sphingobacterium</tspan> sp. clone from termite JQ048321</text>
<text x="169" y="2174.2"><tspan class="k">*OTU86</tspan>(Sphingobacterium 100%)</text>
<text x="169" y="2185.7"><tspan class="i">Sphingobacterium kitahiroshimense</tspan> NR041636</text>
<text x="150" y="2197.3"><tspan class="k">*OTU87</tspan>(Flavisolibacter 90%)</text>
<text x="140" y="2208.9"><tspan class="i">Flavisolibacter ginsengisoli</tspan> NR041500</text>
<text x="162" y="2220.5">▲ Uncultured bacterium clone TM36 from <tspan class="i">Cornitermes cumulans</tspan> JN830995</text>
<text x="158" y="2232"><tspan class="k">*OTU88</tspan>(Chitinophagaceae 100%)</text>
<text x="157" y="2243.6"><tspan class="i">Niabella thaonhiensis</tspan> NR149797</text>
<text x="152" y="2255.2">▲ Uncultured bacterium clone from <tspan class="i">Cornitermes cumulans</tspan> JN831013</text>
<text x="166" y="2266.7"><tspan class="k">*OTU89</tspan>(Flavobacterium 100%)</text>
<text x="169" y="2278.3"><tspan class="i">Flavobacterium plurextorum</tspan> NR133747</text>
<text x="172" y="2289.9"><tspan class="k">*OTU90</tspan>(Flavobacteriaceae 100%)</text>
<text x="172" y="2301.4"><tspan class="i">Gillisia hiemivivida</tspan> MF928336</text>
<text x="150" y="2313">▲ <tspan class="i">Chryseobacterium kwangyangense</tspan> from <tspan class="i">Coptotermes curvignathus</tspan> EU169201</text>
<text x="160" y="2324.6"><tspan class="k">*OTU91</tspan>(Chryseobacterium 99%)</text>
<text x="160" y="2336.2"><tspan class="i">Chryseobacterium anthropi</tspan> KY973978</text>
<text x="152" y="2347.7">▲ Uncultured bacterium clone from termite KF257250</text>
<text x="152" y="2359.3">▲ <tspan class="i">Chryseobacterium</tspan> sp. LB17 from <tspan class="i">Reticulitermes chinensis</tspan> JQ864376</text>
</g>
<g id="leaves-e" class="d">
<text x="163" y="2409.6"><tspan class="k">*OTU92</tspan>(Fusobacterium 100%)</text>
<text x="163" y="2421.3"><tspan class="i">Fusobacterium periodonticum</tspan> NR117839</text>
<text x="155" y="2432.9">▲ <tspan class="i">Fusobacterium varium</tspan> from <tspan class="i">Reticulitermes flavipes</tspan> KR822478</text>
<text x="90" y="2444.6">● <tspan class="k">OTU93</tspan>(Acidobacteria_Gp6 100%)</text>
<text x="89" y="2456.2">Acidobacteria bacterium clone GU187031</text>
<text x="100" y="2467.9">▲ Uncultured bacterium clone from termite JQ048298</text>
<text x="127" y="2479.5">● <tspan class="k">OTU94</tspan>(Acidobacteria_Gp4 100%;)</text>
<text x="126" y="2491.2">▲ Uncultured Acidobacteria bacterium clone from termite JQ048397</text>
<text x="128" y="2502.8"><tspan class="i">Brevitalea deliciosa</tspan> NR151988</text>
<text x="134" y="2514.5">▲ Uncultured bacterium clone from termite JQ048258</text>
<text x="134" y="2526.1"><tspan class="k">*OTU95</tspan>(Acidobacteria_Gp4 100%)</text>
<text x="133" y="2537.8"><tspan class="i">Aridibacter famidurans</tspan> NR133697</text>
<text x="123" y="2549.4"><tspan class="k">*OTU96</tspan>(Deinococcus 100%)</text>
<text x="122" y="2561.1"><tspan class="i">Deinococcus antarcticus</tspan> KC494323</text>
<text x="135" y="2572.7">▲ <tspan class="i">Deinococcus reticulitermitis</tspan> from <tspan class="i">Reticulitermes chinensis</tspan> NR117835</text>
<text x="198" y="2584.4">● <tspan class="k">OTU97</tspan>(Tepidisphaera 80%)</text>
<text x="198" y="2596">▲ Uncultured bacterium clone from <tspan class="i">Cornitermes cumulans</tspan> JN830985</text>
<text x="205" y="2607.7">Planctomycetales bacterium clone AY673390</text>
<text x="134" y="2619.3">● <tspan class="k">OTU98</tspan>(Bacteria 100%)</text>
<text x="134" y="2631">▲ Uncultured Verrucomicrobia bacterium clone from <tspan class="i">Formosan Subterranean</tspan> GQ502666</text>
<text x="134" y="2642.6">▲ Uncultured Verrucomicrobia bacterium clone from <tspan class="i">Reticulitermes speratus</tspan> AB089122</text>
<text x="143" y="2654.3"><tspan class="k">*OTU99</tspan>(Leptospirillum 100%)</text>
<text x="139" y="2665.9"><tspan class="i">Leptospirillum ferriphilum</tspan> NR028818</text>
</g>
</svg>
